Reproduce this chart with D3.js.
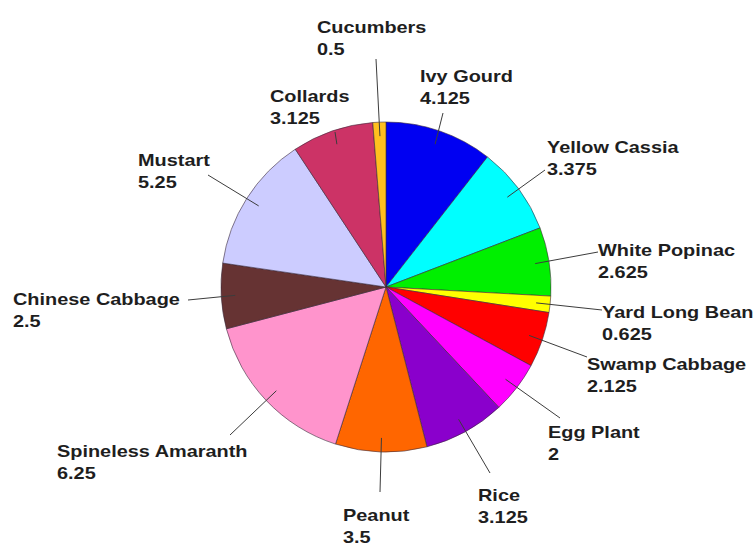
<!DOCTYPE html>
<html>
<head>
<meta charset="utf-8">
<script src="https://cdn.jsdelivr.net/npm/d3@7"></script>
<style>
  html, body { margin: 0; padding: 0; background: #fff; }
  svg { display: block; }
  .lbl { font-family: "Liberation Sans", Arial, sans-serif; font-weight: bold; font-size: 17px; fill: #1e1e1e; }
</style>
</head>
<body>
<div id="chart"></div>
<script>
// Crop shares, clockwise from 12 o'clock
const categories = ["Ivy Gourd", "Yellow Cassia", "White Popinac", "Yard Long Bean", "Swamp Cabbage",
  "Egg Plant", "Rice", "Peanut", "Spineless Amaranth", "Chinese Cabbage", "Mustart", "Collards", "Cucumbers"];
const values = [4.125, 3.375, 2.625, 0.625, 2.125, 2, 3.125, 3.5, 6.25, 2.5, 5.25, 3.125, 0.5];
const valueLabels = ["4.125", "3.375", "2.625", "0.625", "2.125", "2", "3.125", "3.5", "6.25", "2.5", "5.25", "3.125", "0.5"];
const colors = ["#0000f2", "#00ffff", "#00f000", "#ffff00", "#ff0000", "#ff00ff", "#8a00cc",
  "#ff6600", "#ff94cc", "#663333", "#ccccff", "#cc3366", "#ffbf1f"];

// Label layout: text anchor (left, first baseline) and leader-line outer end
const labelText = [[420, 82], [547, 153], [598, 256], [602, 318], [587, 370], [548, 438], [478, 501],
  [343, 521], [57, 457], [13, 305], [138, 166], [270, 102], [317, 33]];
const leaderEnd = [[443, 113], [545, 170], [598, 252], [602, 310], [587, 357], [560, 418], [490, 473],
  [380, 492], [230, 435], [188, 300], [208, 175], [335, 132], [376, 59]];

const W = 755, H = 544;
const cx = 386, cy = 287, R = 165;

const svg = d3.select("#chart").append("svg").attr("width", W).attr("height", H);

const pie = d3.pie().sort(null).value(d => d.v);
const data = categories.map((c, i) => ({ name: c, v: values[i], label: valueLabels[i], color: colors[i], i }));
const arcs = pie(data);
const arc = d3.arc().innerRadius(0).outerRadius(R);
const inner = d3.arc().innerRadius(R * 0.915).outerRadius(R * 0.915);

const g = svg.append("g").attr("transform", `translate(${cx},${cy})`);

g.selectAll("path.slice").data(arcs).join("path")
  .attr("class", "slice")
  .attr("d", arc)
  .attr("fill", d => d.data.color)
  .attr("stroke", "#3a2a3a")
  .attr("stroke-opacity", 0.75)
  .attr("stroke-width", 0.8);

// Leader lines from inside each slice out to its label
svg.selectAll("line.leader").data(arcs).join("line")
  .attr("class", "leader")
  .attr("x1", d => cx + inner.centroid(d)[0])
  .attr("y1", d => cy + inner.centroid(d)[1])
  .attr("x2", d => leaderEnd[d.data.i][0])
  .attr("y2", d => leaderEnd[d.data.i][1])
  .attr("stroke", "#3c3c3c")
  .attr("stroke-width", 1);

const lab = svg.selectAll("g.label").data(arcs).join("g")
  .attr("class", "label")
  .attr("transform", d => `translate(${labelText[d.data.i][0]},${labelText[d.data.i][1]}) scale(1.17,1)`);

lab.append("text").attr("class", "lbl").attr("x", 0).attr("y", 0).text(d => d.data.name);
lab.append("text").attr("class", "lbl").attr("x", 0).attr("y", 22).text(d => d.data.label);
</script>
</body>
</html>
